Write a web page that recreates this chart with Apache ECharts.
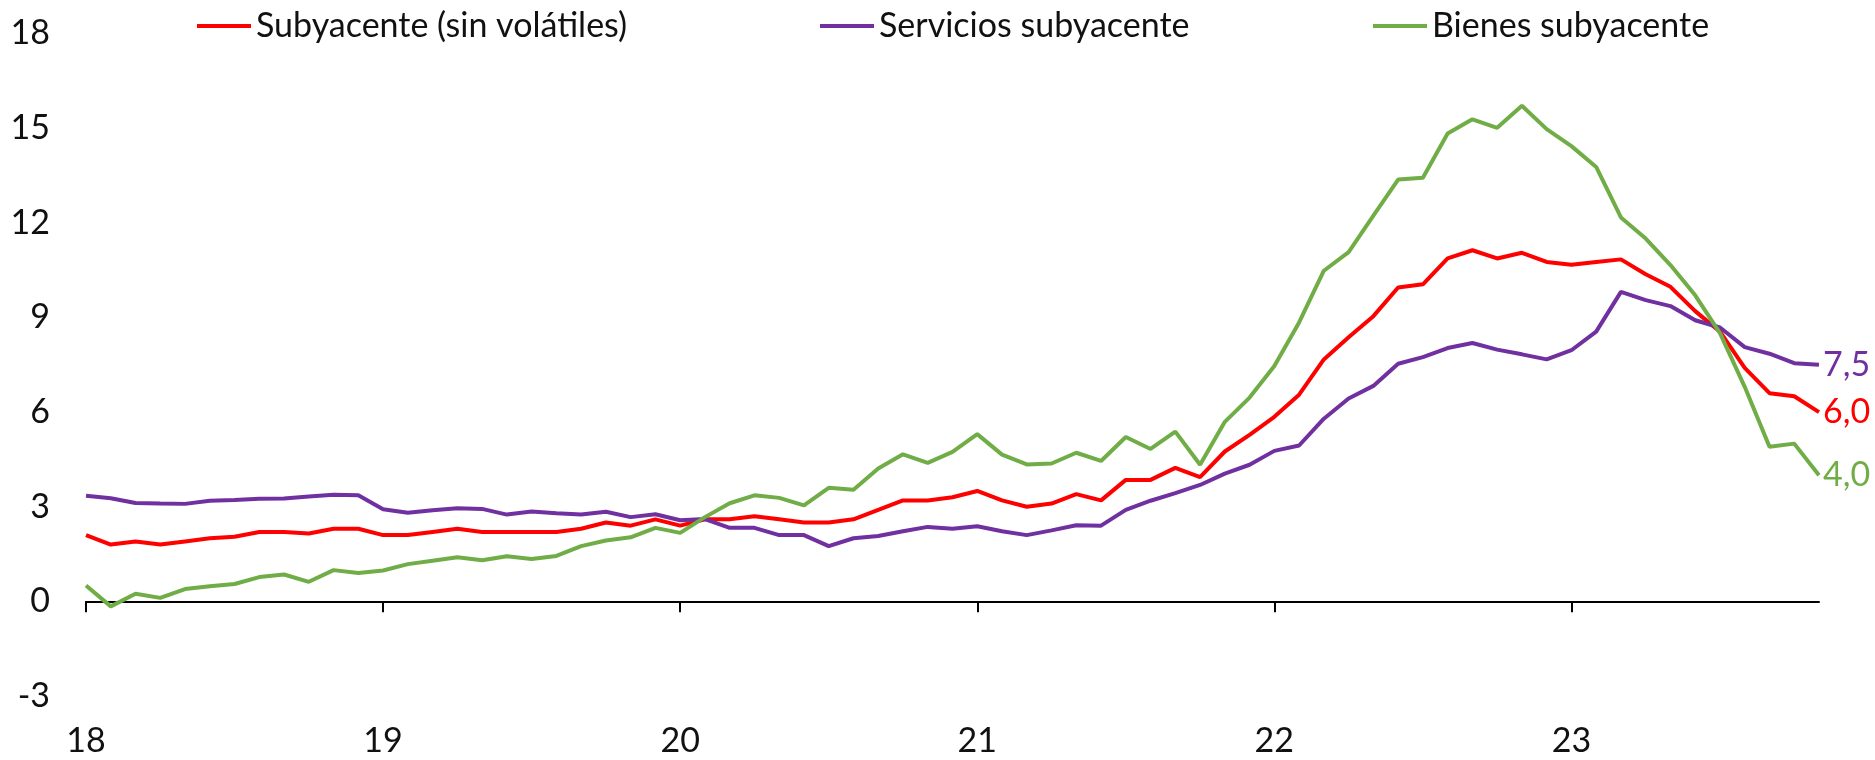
<!DOCTYPE html>
<html>
<head>
<meta charset="utf-8">
<script src="https://cdn.jsdelivr.net/npm/echarts@6/dist/echarts.min.js"></script>
<style>
  html, body { margin: 0; padding: 0; background: #fff; }
  #chart { width: 1875px; height: 760px; }
</style>
</head>
<body>
<div id="chart"></div>
<script>
const months = [
  'ene-18', 'feb-18', 'mar-18', 'abr-18', 'may-18', 'jun-18', 'jul-18', 'ago-18', 'sep-18', 'oct-18', 'nov-18', 'dic-18',
  'ene-19', 'feb-19', 'mar-19', 'abr-19', 'may-19', 'jun-19', 'jul-19', 'ago-19', 'sep-19', 'oct-19', 'nov-19', 'dic-19',
  'ene-20', 'feb-20', 'mar-20', 'abr-20', 'may-20', 'jun-20', 'jul-20', 'ago-20', 'sep-20', 'oct-20', 'nov-20', 'dic-20',
  'ene-21', 'feb-21', 'mar-21', 'abr-21', 'may-21', 'jun-21', 'jul-21', 'ago-21', 'sep-21', 'oct-21', 'nov-21', 'dic-21',
  'ene-22', 'feb-22', 'mar-22', 'abr-22', 'may-22', 'jun-22', 'jul-22', 'ago-22', 'sep-22', 'oct-22', 'nov-22', 'dic-22',
  'ene-23', 'feb-23', 'mar-23', 'abr-23', 'may-23', 'jun-23', 'jul-23', 'ago-23', 'sep-23', 'oct-23', 'nov-23'
]

// Subyacente (sin volátiles)
const subyacente = [
  2.1, 1.8, 1.9, 1.8, 1.9, 2.0, 2.05, 2.2, 2.2, 2.15, 2.3, 2.3,
  2.1, 2.1, 2.2, 2.3, 2.2, 2.2, 2.2, 2.2, 2.3, 2.5, 2.4, 2.6,
  2.4, 2.6, 2.6, 2.7, 2.6, 2.5, 2.5, 2.6, 2.9, 3.2, 3.2, 3.3,
  3.5, 3.2, 3.0, 3.1, 3.4, 3.2, 3.85, 3.85, 4.23, 3.94, 4.75, 5.28,
  5.85, 6.55, 7.67, 8.37, 9.04, 9.95, 10.05, 10.87, 11.13, 10.87, 11.05, 10.76,
  10.67, 10.76, 10.84, 10.37, 9.97, 9.2, 8.55, 7.4, 6.6, 6.5, 6.0
]

// Servicios subyacente
const servicios = [
  3.35, 3.27, 3.12, 3.1, 3.09, 3.19, 3.21, 3.25, 3.26, 3.32, 3.38, 3.36,
  2.92, 2.81, 2.89, 2.95, 2.93, 2.75, 2.85, 2.79, 2.75, 2.84, 2.67, 2.76,
  2.57, 2.61, 2.33, 2.33, 2.1, 2.1, 1.75, 2.0, 2.07, 2.22, 2.36, 2.3,
  2.38, 2.22, 2.1, 2.25, 2.41, 2.4, 2.9, 3.19, 3.43, 3.69, 4.05, 4.33,
  4.77, 4.94, 5.79, 6.43, 6.83, 7.53, 7.74, 8.03, 8.19, 7.98, 7.83, 7.67,
  7.96, 8.55, 9.81, 9.55, 9.36, 8.91, 8.68, 8.06, 7.85, 7.55, 7.5
]

// Bienes subyacente
const bienes = [
  0.5, -0.16, 0.24, 0.11, 0.39, 0.48, 0.55, 0.77, 0.85, 0.62, 0.99, 0.9,
  0.98, 1.18, 1.29, 1.4, 1.3, 1.43, 1.34, 1.44, 1.75, 1.93, 2.03, 2.33,
  2.17, 2.67, 3.11, 3.36, 3.28, 3.04, 3.6, 3.54, 4.21, 4.66, 4.39, 4.74,
  5.3, 4.65, 4.34, 4.37, 4.71, 4.45, 5.21, 4.83, 5.38, 4.33, 5.69, 6.46,
  7.46, 8.84, 10.48, 11.07, 12.23, 13.37, 13.43, 14.83, 15.28, 15.01, 15.71, 14.97,
  14.43, 13.77, 12.17, 11.5, 10.66, 9.7, 8.5, 6.8, 4.9, 5.0, 4.0
]

const FONT = 'Lato'
const FONT_SIZE = 34
const RED = '#ff0000'
const PURPLE = '#7030a0'
const GREEN = '#70ad47'

const chart = echarts.init(document.getElementById('chart'))

const isJan = (index) => index % 12 === 0
const comma = (v) => v.toFixed(1).replace('.', ',')

const legendBase = {
  top: 9,
  padding: 0,
  icon: 'rect',
  itemWidth: 54,
  itemHeight: 4,
  textStyle: { fontFamily: FONT, fontSize: FONT_SIZE, color: '#111' }
}

const lineSeries = (name, data, color) => ({
  name,
  type: 'line',
  data,
  symbol: 'none',
  lineStyle: { color, width: 4 },
  itemStyle: { color },
  endLabel: {
    show: true,
    distance: 4,
    color,
    fontFamily: FONT,
    fontSize: FONT_SIZE,
    formatter: (p) => comma(p.value)
  }
})

const option = {
  animation: false,
  backgroundColor: '#fff',
  legend: [
    { ...legendBase, left: 197, data: ['Subyacente (sin volátiles)'] },
    { ...legendBase, left: 820, data: ['Servicios subyacente'] },
    { ...legendBase, left: 1373, data: ['Bienes subyacente'] }
  ],
  grid: {
    left: 86,
    right: 56,
    top: 33.5,
    bottom: 64,
    containLabel: false,
    outerBoundsMode: 'none'
  },
  xAxis: {
    type: 'category',
    boundaryGap: false,
    data: months,
    axisLine: { onZero: true, lineStyle: { color: '#000', width: 2 } },
    axisTick: { interval: isJan, length: 11, lineStyle: { color: '#000', width: 2 } },
    axisLabel: {
      interval: isJan,
      margin: 28,
      fontFamily: FONT,
      fontSize: FONT_SIZE,
      color: '#111',
      formatter: (v) => v.split('-')[1]
    },
    splitLine: { show: false }
  },
  yAxis: {
    type: 'value',
    min: -3,
    max: 18,
    interval: 3,
    axisLine: { show: false },
    axisTick: { show: false },
    splitLine: { show: false },
    axisLabel: { margin: 36, fontFamily: FONT, fontSize: FONT_SIZE, color: '#111' }
  },
  series: [
    lineSeries('Subyacente (sin volátiles)', subyacente, RED),
    lineSeries('Servicios subyacente', servicios, PURPLE),
    lineSeries('Bienes subyacente', bienes, GREEN)
  ]
}

chart.setOption(option)

window.addEventListener('resize', () => chart.resize())
</script>
</body>
</html>
